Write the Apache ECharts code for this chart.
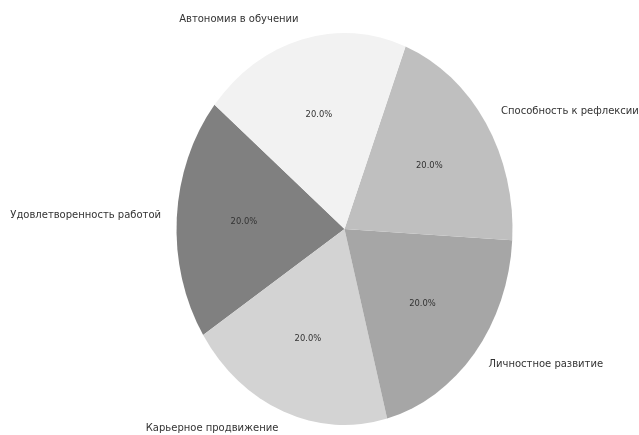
<!DOCTYPE html>
<html>
<head>
<meta charset="utf-8">
<script src="https://cdn.jsdelivr.net/npm/echarts@6/dist/echarts.min.js"></script>
<style>
  html, body { margin: 0; padding: 0; background: #fff; }
  #chart { width: 639px; height: 435px; }
</style>
</head>
<body>
<div id="chart"></div>
<script>
// Slice names and shares
const categories = [
  'Удовлетворенность работой',
  'Карьерное продвижение',
  'Личностное развитие',
  'Способность к рефлексии',
  'Автономия в обучении'
];
const values = [20, 20, 20, 20, 20];

// Slice fills, in the same order
const sliceColors = ['#808080', '#d3d3d3', '#a6a6a6', '#bfbfbf', '#f2f2f2'];

// Layout of the (vertically stretched) pie
const layout = {
  cx: 344.5, cy: 229,
  rx: 168, ry: 196,
  startDeg: 140.7,      // counter-clockwise, from the positive x axis
  labelDist: 1.1,
  pctDist: 0.6,
  labelFont: '10px "DejaVu Sans"',
  pctFont: '8.4px "DejaVu Sans"'
};

const total = values.reduce((a, b) => a + b, 0);

const chart = echarts.init(document.getElementById('chart'), null, { renderer: 'canvas' });

function renderItem(params, api) {
  const i = params.dataIndex;
  let before = 0;
  for (let k = 0; k < i; k++) before += values[k];
  const v = api.value(1);
  const a1 = (layout.startDeg + before / total * 360) * Math.PI / 180;
  const a2 = (layout.startDeg + (before + v) / total * 360) * Math.PI / 180;
  const mid = (a1 + a2) / 2;
  const { cx, cy, rx, ry } = layout;

  const lx = cx + layout.labelDist * rx * Math.cos(mid);
  const ly = cy - layout.labelDist * ry * Math.sin(mid);
  const px = cx + layout.pctDist * rx * Math.cos(mid);
  const py = cy - layout.pctDist * ry * Math.sin(mid);

  return {
    type: 'group',
    children: [
      {
        type: 'group',
        x: cx, y: cy,
        scaleY: ry / rx,
        children: [{
          type: 'sector',
          shape: {
            cx: 0, cy: 0, r0: 0, r: rx,
            startAngle: -a2, endAngle: -a1, clockwise: true
          },
          style: { fill: sliceColors[i], stroke: null }
        }]
      },
      {
        type: 'text',
        x: lx + (Math.cos(mid) >= 0 ? 1 : 1), y: ly - 1.5,
        style: {
          text: categories[i],
          font: layout.labelFont,
          fill: '#333',
          align: Math.cos(mid) >= 0 ? 'left' : 'right',
          verticalAlign: 'middle'
        }
      },
      {
        type: 'text',
        x: px, y: py,
        style: {
          text: (v / total * 100).toFixed(1) + '%',
          font: layout.pctFont,
          fill: '#333',
          align: 'center',
          verticalAlign: 'middle'
        }
      }
    ]
  };
}

chart.setOption({
  animation: false,
  backgroundColor: '#fff',
  series: [{
    type: 'custom',
    coordinateSystem: 'none',
    renderItem: renderItem,
    data: categories.map((c, i) => [i, values[i]])
  }]
});
</script>
</body>
</html>
